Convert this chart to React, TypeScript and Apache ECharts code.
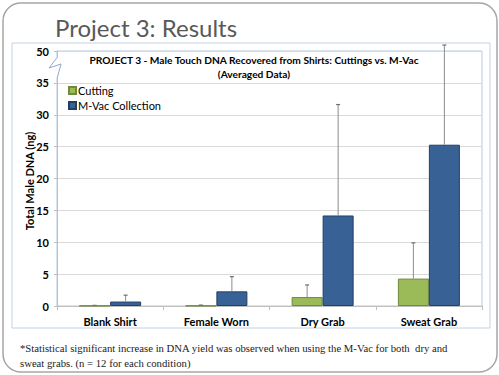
import React, { useEffect, useRef } from "react";
import * as echarts from "echarts";

const categories = ["Blank Shirt", "Female Worn", "Dry Grab", "Sweat Grab"];
const cuttingMeans = [0.05, 0.05, 1.4, 4.3];
const cuttingHighs = [0.1, 0.15, 3.3, 9.9];
const mvacMeans = [0.7, 2.3, 14.2, 25.3];
const mvacHighs = [1.7, 4.6, 31.6, 52.8];
const yTickLabels: Record<number, string> = { 0: "0", 5: "5", 10: "10", 15: "15", 20: "20", 25: "25", 30: "30", 35: "35", 40: "50" };

// broken axis: 0-35 linear, 35-50 compressed into 35-40
const axisPos = (v: number) => (v <= 35 ? v : 35 + (v - 35) / 3);

const BAR_W = 31;
const FONT = "Lato, 'Liberation Sans', sans-serif";

function errorSeries(means: number[], highs: number[], offset: number) {
  return {
    type: "custom",
    clip: false,
    silent: true,
    z: 5,
    data: means.map((m, i) => [i, axisPos(m), axisPos(highs[i])]),
    renderItem: (params: any, api: any) => {
      const i = api.value(0);
      const lo = api.coord([i, api.value(1)]);
      const hi = api.coord([i, api.value(2)]);
      const x = lo[0] + offset;
      return {
        type: "group",
        children: [
          { type: "line", shape: { x1: x, y1: lo[1], x2: x, y2: hi[1] }, style: { stroke: "#8c8c8c", lineWidth: 1 } },
          { type: "line", shape: { x1: x - 2, y1: hi[1], x2: x + 2, y2: hi[1] }, style: { stroke: "#6e6e6e", lineWidth: 1.2 } },
        ],
      };
    },
  };
}

export default function App() {
  const ref = useRef<HTMLDivElement>(null);
  useEffect(() => {
    const chart = echarts.init(ref.current!, null, { renderer: "svg" });
    chart.setOption({
      animation: false,
      backgroundColor: "#ffffff",
      grid: { left: 57, right: 17, top: 51, bottom: 69, show: true, borderColor: "#b7cbe4", borderWidth: 1, backgroundColor: "transparent" },
      legend: {
        orient: "vertical",
        left: 68,
        top: 85,
        padding: 0,
        itemWidth: 7,
        itemHeight: 7,
        itemGap: 4,
        icon: "rect",
        textStyle: { fontFamily: FONT, fontSize: 11, color: "#000", padding: [0, 0, 0, -3] },
        data: ["Cutting", "M-Vac Collection"],
      },
      xAxis: {
        type: "category",
        data: categories,
        axisLine: { lineStyle: { color: "#bfbfbf" } },
        axisTick: { show: true, length: 4, lineStyle: { color: "#bfbfbf" } },
        axisLabel: { fontFamily: FONT, fontWeight: "bold", fontSize: 11, color: "#000", margin: 10 },
      },
      yAxis: {
        type: "value",
        min: 0,
        max: 40,
        interval: 5,
        axisLine: { show: true, lineStyle: { color: "#bfbfbf" } },
        axisTick: { show: true, length: 3, lineStyle: { color: "#bfbfbf" } },
        splitLine: { lineStyle: { color: "#d9d9d9" } },
        axisLabel: {
          fontFamily: FONT,
          fontWeight: "bold",
          fontSize: 11,
          color: "#000",
          margin: 8,
          formatter: (v: number) => yTickLabels[v] ?? "",
        },
      },
      series: [
        {
          name: "Cutting",
          type: "bar",
          data: cuttingMeans,
          barWidth: BAR_W,
          barGap: "0%",
          itemStyle: { color: "#9bbb59", borderColor: "#6f8a3c", borderWidth: 1 },
        },
        {
          name: "M-Vac Collection",
          type: "bar",
          data: mvacMeans,
          barWidth: BAR_W,
          barGap: "0%",
          itemStyle: { color: "#386195", borderColor: "#213f66", borderWidth: 1 },
        },
        errorSeries(cuttingMeans, cuttingHighs, -BAR_W / 2),
        errorSeries(mvacMeans, mvacHighs, BAR_W / 2),
      ],
      graphic: [
        { type: "rect", z: -10, shape: { x: 3, y: 3, width: 494, height: 369, r: 18 }, style: { fill: "#fff", stroke: "#a6a6a6", lineWidth: 1.5 } },
        { type: "rect", z: -5, shape: { x: 12, y: 43, width: 478, height: 285 }, style: { fill: "transparent", stroke: "#c3d1e3", lineWidth: 1 } },
        { type: "text", x: 55, y: 27, style: { text: "Project 3: Results", font: `normal 24px ${FONT}`, fill: "#595959", textVerticalAlign: "middle" } },
        { type: "text", x: 254, y: 60, z: 10, style: { text: "PROJECT 3 - Male Touch DNA Recovered from Shirts: Cuttings vs. M-Vac", font: `bold 10.2px ${FONT}`, fill: "#000", textAlign: "center", textVerticalAlign: "middle" } },
        { type: "text", x: 254, y: 74, z: 10, style: { text: "(Averaged Data)", font: `bold 10.2px ${FONT}`, fill: "#000", textAlign: "center", textVerticalAlign: "middle" } },
        { type: "text", x: 29, y: 181, rotation: Math.PI / 2, style: { text: "Total Male DNA (ng)", font: `bold 11px ${FONT}`, fill: "#000", textAlign: "center", textVerticalAlign: "middle" } },
        { type: "rect", z: 20, shape: { x: 54, y: 57, width: 8, height: 20 }, style: { fill: "#fff" } },
        { type: "polyline", z: 21, shape: { points: [[57.5, 57], [49, 68], [61, 64], [57.5, 77]] }, style: { stroke: "#8eaad0", lineWidth: 1, fill: "none" } },
        { type: "text", x: 20, y: 348, style: { text: "*Statistical significant increase in DNA yield was observed when using the M-Vac for both  dry and", font: `normal 10.7px 'Liberation Serif', serif`, fill: "#222", textVerticalAlign: "middle" } },
        { type: "text", x: 20, y: 363, style: { text: "sweat grabs. (n = 12 for each condition)", font: `normal 10.7px 'Liberation Serif', serif`, fill: "#222", textVerticalAlign: "middle" } },
      ],
    });
    return () => chart.dispose();
  }, []);
  return <div ref={ref} style={{ position: "fixed", left: 0, top: 0, width: 499, height: 375 }} />;
}
